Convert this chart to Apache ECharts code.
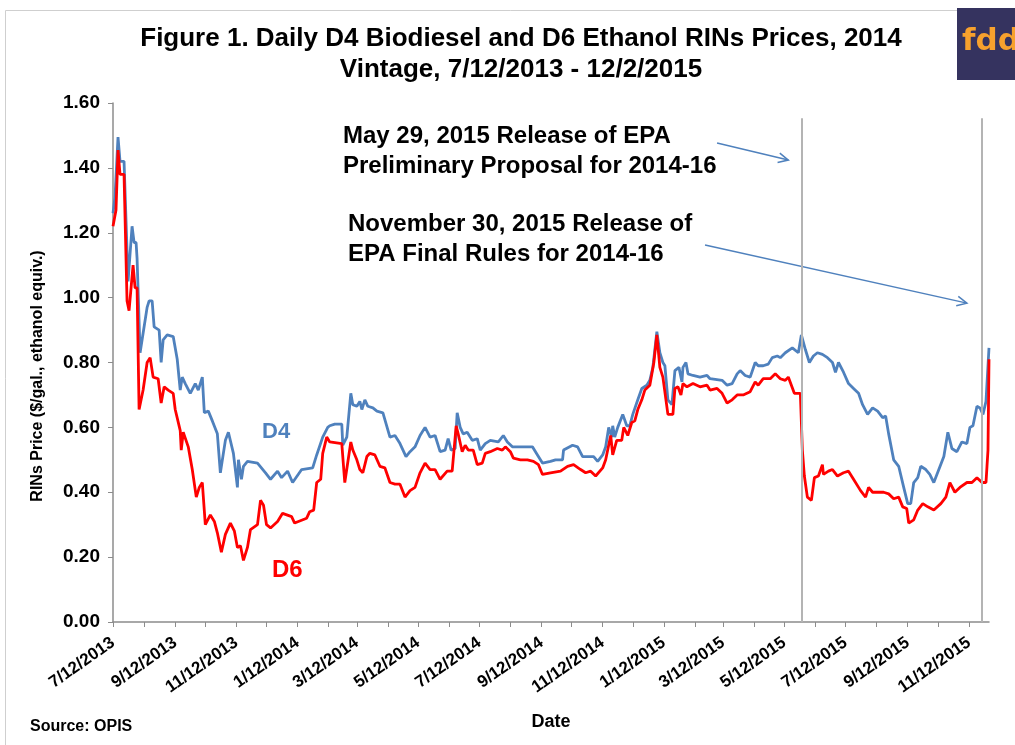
<!DOCTYPE html>
<html>
<head>
<meta charset="utf-8">
<script src="https://cdn.jsdelivr.net/npm/echarts@6/dist/echarts.min.js"></script>
<style>
  html, body { margin: 0; padding: 0; background: #fff; }
  #rins-chart { width: 1015px; height: 745px; }
</style>
</head>
<body>
<div id="rins-chart"></div>
<script>
const BLUE = '#4f81bd';
const RED = '#ff0000';
const FONT = '"Liberation Sans", Arial, sans-serif';

// days are counted from 7/12/2013 (day 0) to 12/2/2015 (day 873)
const START = new Date(2013, 6, 12);
const LAST_DAY = 873;

const tickLabels = ['7/12/2013', '9/12/2013', '11/12/2013', '1/12/2014', '3/12/2014', '5/12/2014',
  '7/12/2014', '9/12/2014', '11/12/2014', '1/12/2015', '3/12/2015', '5/12/2015', '7/12/2015',
  '9/12/2015', '11/12/2015'];

const d4Days = [0, 2, 5, 7, 11, 15, 19, 21, 23, 24, 27, 30, 34, 36, 39, 41, 46, 48, 50, 54, 60, 64,
  67, 69, 72, 77, 82, 85, 89, 91, 95, 99, 104, 107, 112, 115, 120, 124, 125, 128, 130, 134, 144,
  152, 157, 164, 168, 174, 179, 188, 199, 203, 209, 214, 216, 221, 228, 229, 233, 237, 239, 243,
  246, 248, 251, 254, 259, 263, 269, 276, 281, 286, 292, 296, 301, 306, 311, 316, 321, 326, 331,
  334, 337, 341, 343, 346, 349, 353, 358, 363, 366, 371, 376, 384, 389, 393, 398, 413, 418, 423,
  428, 436, 441, 448, 449, 458, 463, 468, 479, 483, 488, 491, 494, 497, 498, 500, 503, 508, 512,
  515, 518, 523, 527, 532, 535, 538, 542, 545, 548, 550, 553, 557, 560, 564, 567, 568, 571, 573,
  578, 585, 592, 595, 607, 612, 617, 622, 625, 630, 635, 640, 643, 648, 653, 657, 662, 665, 670,
  677, 683, 686, 690, 694, 698, 702, 707, 712, 717, 720, 723, 728, 733, 738, 743, 747, 752, 757,
  762, 767, 770, 773, 778, 783, 788, 792, 795, 798, 802, 805, 810, 814, 818, 823, 828, 832, 836,
  841, 846, 851, 854, 857, 861, 864, 867, 870, 873];
const d4Price = [1.26, 1.31, 1.495, 1.42, 1.42, 1.05, 1.22, 1.17, 1.17, 1.12, 0.83, 0.89, 0.97,
  0.99, 0.99, 0.91, 0.90, 0.80, 0.87, 0.885, 0.88, 0.81, 0.715, 0.755, 0.735, 0.705, 0.735, 0.715,
  0.755, 0.645, 0.65, 0.62, 0.58, 0.46, 0.56, 0.585, 0.52, 0.415, 0.50, 0.44, 0.48, 0.495, 0.49,
  0.46, 0.44, 0.465, 0.445, 0.465, 0.43, 0.47, 0.475, 0.515, 0.57, 0.60, 0.605, 0.61, 0.61, 0.545,
  0.57, 0.705, 0.67, 0.665, 0.68, 0.655, 0.685, 0.665, 0.66, 0.65, 0.645, 0.57, 0.575, 0.55, 0.51,
  0.525, 0.54, 0.575, 0.60, 0.57, 0.575, 0.525, 0.53, 0.565, 0.53, 0.535, 0.645, 0.60, 0.58, 0.585,
  0.56, 0.565, 0.53, 0.55, 0.56, 0.555, 0.575, 0.555, 0.54, 0.54, 0.54, 0.515, 0.49, 0.495, 0.50,
  0.50, 0.53, 0.545, 0.54, 0.51, 0.51, 0.495, 0.515, 0.54, 0.60, 0.57, 0.605, 0.57, 0.60, 0.64,
  0.605, 0.605, 0.64, 0.685, 0.72, 0.73, 0.745, 0.785, 0.895, 0.83, 0.80, 0.79, 0.685, 0.67, 0.775,
  0.785, 0.74, 0.785, 0.80, 0.765, 0.76, 0.755, 0.76, 0.75, 0.745, 0.73, 0.735, 0.765, 0.775, 0.76,
  0.755, 0.80, 0.79, 0.79, 0.795, 0.815, 0.82, 0.815, 0.83, 0.845, 0.83, 0.885, 0.84, 0.80, 0.82,
  0.83, 0.825, 0.815, 0.80, 0.77, 0.80, 0.77, 0.735, 0.72, 0.705, 0.67, 0.64, 0.66, 0.65, 0.63,
  0.635, 0.58, 0.50, 0.48, 0.415, 0.365, 0.365, 0.43, 0.445, 0.48, 0.47, 0.455, 0.43, 0.47, 0.51,
  0.585, 0.535, 0.525, 0.555, 0.55, 0.60, 0.605, 0.665, 0.66, 0.64, 0.68, 0.845];

const d6Days = [0, 3, 5, 7, 11, 14, 16, 20, 22, 24, 26, 30, 34, 37, 40, 45, 48, 51, 55, 60, 62, 67,
  68, 70, 75, 79, 83, 86, 89, 92, 97, 101, 104, 108, 112, 117, 121, 124, 127, 130, 134, 137, 144,
  147, 150, 153, 157, 164, 169, 178, 181, 193, 196, 200, 203, 207, 209, 213, 216, 228, 231, 237,
  239, 243, 246, 249, 253, 256, 261, 266, 271, 276, 281, 286, 291, 296, 301, 306, 311, 316, 321,
  326, 333, 338, 342, 344, 348, 351, 354, 359, 363, 368, 371, 376, 383, 388, 391, 396, 399, 406,
  413, 419, 424, 428, 436, 446, 453, 459, 466, 471, 476, 481, 488, 491, 496, 498, 502, 507, 509,
  513, 517, 520, 523, 527, 530, 535, 539, 542, 545, 548, 553, 558, 560, 563, 566, 568, 572, 578,
  585, 592, 595, 602, 607, 612, 617, 622, 628, 635, 640, 643, 648, 655, 660, 665, 670, 673, 679,
  685, 687, 689, 692, 696, 699, 703, 707, 708, 713, 717, 722, 728, 733, 738, 745, 750, 753, 757,
  762, 768, 773, 778, 783, 787, 791, 793, 798, 802, 807, 812, 818, 825, 830, 834, 839, 844, 851,
  856, 861, 866, 870, 871, 872, 873];
const d6Price = [1.22, 1.27, 1.455, 1.38, 1.38, 0.99, 0.96, 1.10, 1.03, 1.03, 0.655, 0.715, 0.80,
  0.815, 0.755, 0.75, 0.675, 0.725, 0.715, 0.705, 0.655, 0.59, 0.53, 0.585, 0.54, 0.47, 0.385,
  0.415, 0.43, 0.30, 0.33, 0.31, 0.275, 0.215, 0.27, 0.305, 0.28, 0.23, 0.235, 0.19, 0.23, 0.285,
  0.30, 0.375, 0.36, 0.30, 0.29, 0.31, 0.335, 0.325, 0.305, 0.32, 0.34, 0.345, 0.43, 0.44, 0.52,
  0.57, 0.555, 0.55, 0.43, 0.555, 0.53, 0.50, 0.47, 0.46, 0.51, 0.52, 0.515, 0.48, 0.475, 0.43,
  0.425, 0.425, 0.385, 0.405, 0.415, 0.46, 0.49, 0.47, 0.47, 0.44, 0.465, 0.465, 0.605, 0.58,
  0.525, 0.545, 0.53, 0.53, 0.485, 0.49, 0.52, 0.525, 0.535, 0.53, 0.54, 0.525, 0.505, 0.50, 0.50,
  0.495, 0.485, 0.455, 0.46, 0.465, 0.48, 0.485, 0.47, 0.46, 0.465, 0.45, 0.475, 0.50, 0.575, 0.515,
  0.56, 0.56, 0.60, 0.575, 0.615, 0.62, 0.655, 0.685, 0.715, 0.73, 0.80, 0.885, 0.785, 0.755, 0.64,
  0.64, 0.72, 0.725, 0.70, 0.735, 0.725, 0.735, 0.725, 0.73, 0.715, 0.72, 0.705, 0.675, 0.685,
  0.70, 0.70, 0.71, 0.74, 0.73, 0.75, 0.75, 0.765, 0.75, 0.745, 0.755, 0.705, 0.705, 0.53, 0.45,
  0.385, 0.375, 0.445, 0.45, 0.485, 0.455, 0.465, 0.47, 0.45, 0.46, 0.465, 0.44, 0.405, 0.385,
  0.415, 0.40, 0.40, 0.40, 0.395, 0.38, 0.385, 0.355, 0.35, 0.305, 0.315, 0.345, 0.365, 0.355,
  0.345, 0.365, 0.385, 0.43, 0.40, 0.415, 0.43, 0.43, 0.445, 0.43, 0.43, 0.48, 0.53, 0.81];

// EPA release markers (drawn where the source chart puts them)
const eventDays = [686, 866];

const noteLines = [
  ['May 29, 2015 Release of EPA', 'Preliminary Proposal for 2014-16'],
  ['November 30, 2015 Release of', 'EPA Final Rules for 2014-16'],
];

const DAY_MS = 86400000;

function dateToDay(date) {
  return Math.round((date.getTime() - START.getTime()) / DAY_MS);
}

function parseDate(str) {
  const [m, d, y] = str.split('/').map(Number);
  return dateToDay(new Date(y, m - 1, d));
}

function formatDay(day) {
  const d = new Date(START.getFullYear(), START.getMonth(), START.getDate() + Math.round(day));
  return (d.getMonth() + 1) + '/' + d.getDate() + '/' + d.getFullYear();
}

const monthTicks = [];
for (let i = 0; i <= 28; i++) {
  monthTicks.push(dateToDay(new Date(2013, 6 + i, 12)));
}

const labelStyle = {fontFamily: FONT, fontWeight: 'bold', color: '#000'};
const noteFont = `bold 24px ${FONT}`;

const chartOptions = {
  animation: false,
  backgroundColor: '#fff',
  title: {
    text: 'Figure 1. Daily D4 Biodiesel and D6 Ethanol RINs Prices, 2014\nVintage, 7/12/2013 - 12/2/2015',
    left: 516,
    top: 18,
    textAlign: 'center',
    textStyle: {...labelStyle, fontSize: 26, lineHeight: 31},
  },
  grid: {left: 113, right: 26, top: 103, bottom: 123, outerBoundsMode: 'none'},
  xAxis: {
    type: 'value',
    min: 0,
    max: LAST_DAY,
    name: 'Date',
    nameLocation: 'middle',
    nameGap: 91,
    nameTextStyle: {...labelStyle, fontSize: 18},
    axisLine: {lineStyle: {color: '#8c8c8c', width: 1.5}},
    axisTick: {customValues: monthTicks, length: 5, lineStyle: {color: '#8c8c8c'}},
    axisLabel: {
      customValues: tickLabels.map(parseDate),
      formatter: formatDay,
      rotate: 35,
      margin: 19,
      fontSize: 17,
      ...labelStyle,
    },
    splitLine: {show: false},
  },
  yAxis: {
    type: 'value',
    min: 0,
    max: 1.6,
    interval: 0.2,
    axisLine: {show: true, lineStyle: {color: '#8c8c8c', width: 1.5}},
    axisTick: {show: true, length: 5, lineStyle: {color: '#8c8c8c'}},
    axisLabel: {
      formatter: (v) => v.toFixed(2),
      fontSize: 19,
      margin: 13,
      ...labelStyle,
    },
    splitLine: {show: false},
  },
  series: [
    {
      name: 'D4',
      type: 'line',
      showSymbol: false,
      itemStyle: {color: BLUE},
      lineStyle: {width: 2.8, color: BLUE},
      data: d4Days.map((d, i) => [d, d4Price[i]]),
      markLine: {
        silent: true,
        symbol: 'none',
        label: {show: false},
        lineStyle: {color: '#b4b4b4', width: 2, type: 'solid'},
        data: eventDays.map((d) => [{coord: [d, 1.553]}, {coord: [d, 0]}]),
      },
    }, {
      name: 'D6',
      type: 'line',
      showSymbol: false,
      itemStyle: {color: RED},
      lineStyle: {width: 2.8, color: RED},
      data: d6Days.map((d, i) => [d, d6Price[i]]),
    }
  ],
  graphic: [
    {type: 'rect', left: 3, top: 8, shape: {width: 1100, height: 1000},
      style: {fill: 'none', stroke: '#cfcfcf', lineWidth: 1}, silent: true},
    {type: 'rect', left: 957, top: 8, shape: {width: 60, height: 72}, style: {fill: '#35335f'}},
    {type: 'text', left: 962, top: 26,
      style: {text: 'fdd', fill: '#f7a12d', font: 'bold 31px "DejaVu Sans", sans-serif'}},
    {type: 'text', x: 38, y: 376, rotation: Math.PI / 2,
      style: {text: 'RINs Price ($/gal., ethanol equiv.)', font: `bold 16px ${FONT}`, fill: '#000',
        align: 'center', verticalAlign: 'middle'}},
    {type: 'text', x: 343, y: 136, style: {text: noteLines[0][0], font: noteFont, fill: '#000', verticalAlign: 'middle'}},
    {type: 'text', x: 343, y: 166, style: {text: noteLines[0][1], font: noteFont, fill: '#000', verticalAlign: 'middle'}},
    {type: 'text', x: 348, y: 224, style: {text: noteLines[1][0], font: noteFont, fill: '#000', verticalAlign: 'middle'}},
    {type: 'text', x: 348, y: 254, style: {text: noteLines[1][1], font: noteFont, fill: '#000', verticalAlign: 'middle'}},
    {type: 'text', x: 262, y: 432, style: {text: 'D4', font: `bold 22px ${FONT}`, fill: BLUE, verticalAlign: 'middle'}},
    {type: 'text', x: 272, y: 570, style: {text: 'D6', font: `bold 24px ${FONT}`, fill: RED, verticalAlign: 'middle'}},
    {type: 'text', x: 30, y: 727, style: {text: 'Source: OPIS', font: `bold 16px ${FONT}`, fill: '#000', verticalAlign: 'middle'}},
  ]
};

const chart = echarts.init(document.getElementById('rins-chart'));
chart.setOption(chartOptions);

// arrows from the notes to the release lines, anchored in data space
const arrows = [
  {from: [602, 1.477], to: [673, 1.424]},
  {from: [590, 1.162], to: [851, 0.983]},
];

function arrowGraphic(a, idx) {
  const p0 = chart.convertToPixel({gridIndex: 0}, a.from);
  const p1 = chart.convertToPixel({gridIndex: 0}, a.to);
  const ang = Math.atan2(p1[1] - p0[1], p1[0] - p0[0]);
  const head = 11;
  const spread = 0.45;
  const h1 = [p1[0] - head * Math.cos(ang - spread), p1[1] - head * Math.sin(ang - spread)];
  const h2 = [p1[0] - head * Math.cos(ang + spread), p1[1] - head * Math.sin(ang + spread)];
  const style = {stroke: BLUE, lineWidth: 1.5, fill: 'none'};
  return [
    {type: 'line', id: 'arrow-line-' + idx, shape: {x1: p0[0], y1: p0[1], x2: p1[0], y2: p1[1]}, style, silent: true},
    {type: 'polyline', id: 'arrow-head-' + idx, shape: {points: [h1, p1, h2]}, style, silent: true},
  ];
}

chart.setOption({graphic: arrows.flatMap(arrowGraphic)});
</script>
</body>
</html>
